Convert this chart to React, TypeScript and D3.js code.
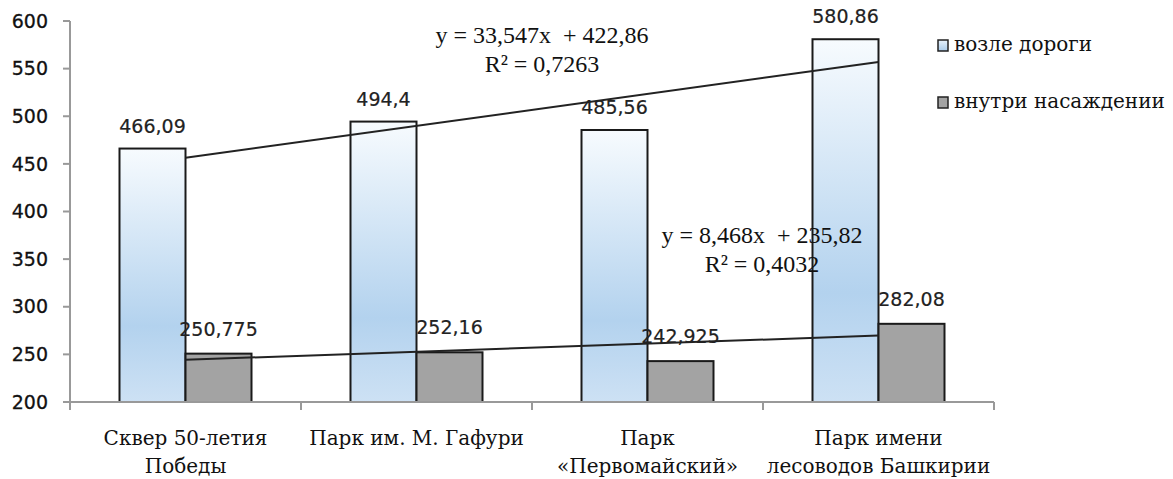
import React from "react";
import * as d3 from "d3";

const categories: string[][] = [
  ["Сквер 50-летия", "Победы"],
  ["Парк им. М. Гафури"],
  ["Парк", "«Первомайский»"],
  ["Парк имени", "лесоводов Башкирии"],
];
const seriesNames = ["возле дороги", "внутри насаждении"];
const roadValues = [466.09, 494.4, 485.56, 580.86];
const innerValues = [250.775, 252.16, 242.925, 282.08];
const roadLabels = ["466,09", "494,4", "485,56", "580,86"];
const innerLabels = ["250,775", "252,16", "242,925", "282,08"];
const yTicks = [200, 250, 300, 350, 400, 450, 500, 550, 600];
const trendRoad = { slope: 33.547, intercept: 422.86, eq: "y = 33,547x  + 422,86", r2: "R² = 0,7263" };
const trendInner = { slope: 8.468, intercept: 235.82, eq: "y = 8,468x  + 235,82", r2: "R² = 0,4032" };

export default function App() {
  const W = 1173, H = 479;
  const left = 70, right = 994, top = 21, bottom = 402;
  const x0 = d3.scaleBand<number>().domain(d3.range(categories.length)).range([left, right]).paddingInner(0).paddingOuter(0);
  const y = d3.scaleLinear().domain([200, 600]).range([bottom, top]);
  const bw = x0.bandwidth();
  const barW = bw / (2 + 1.5);
  const gap = (bw - 2 * barW) / 2;
  const roadX = (i: number) => (x0(i) as number) + gap;
  const innerX = (i: number) => (x0(i) as number) + gap + barW;
  const center = (i: number) => (x0(i) as number) + bw / 2;
  const trendX = (k: number) => center(k - 1);

  const tickFont = "'DejaVu Sans', Verdana, sans-serif";
  const serif = "'DejaVu Serif', serif";
  const eqFont = "'Liberation Serif', 'Times New Roman', serif";

  const line = (t: typeof trendRoad) => {
    const pts: [number, number][] = [1, 4].map((k) => [trendX(k), y(t.slope * k + t.intercept)]);
    return d3.line()(pts) as string;
  };

  return (
    <svg width={W} height={H} style={{ position: "absolute", left: 0, top: 0, background: "#fff" }}>
      <defs>
        <linearGradient id="blueGrad" x1="0" y1="0" x2="0" y2="1">
          <stop offset="0" stopColor="#f7fbfe" />
          <stop offset="0.7" stopColor="#b3d2ee" />
          <stop offset="1" stopColor="#cde1f4" />
        </linearGradient>
        <linearGradient id="blueGradLeg" x1="0" y1="0" x2="0" y2="1">
          <stop offset="0" stopColor="#e8f2fb" />
          <stop offset="1" stopColor="#a9cbea" />
        </linearGradient>
      </defs>

      {/* y axis */}
      <line x1={left} x2={left} y1={top} y2={bottom} stroke="#999" strokeWidth={2} />
      {yTicks.map((t) => (
        <g key={t}>
          <line x1={left - 7} x2={left} y1={y(t)} y2={y(t)} stroke="#999" strokeWidth={2} />
          <text x={48} y={y(t)} dy="0.35em" textAnchor="end" fontFamily={tickFont} fontSize={19} fill="#111" stroke="#111" strokeWidth={0.3}>
            {t}
          </text>
        </g>
      ))}

      {/* bars */}
      {roadValues.map((v, i) => (
        <rect key={"r" + i} x={roadX(i)} y={y(v)} width={barW} height={bottom - y(v)} fill="url(#blueGrad)" stroke="#1a1a1a" strokeWidth={2} />
      ))}
      {innerValues.map((v, i) => (
        <rect key={"n" + i} x={innerX(i)} y={y(v)} width={barW} height={bottom - y(v)} fill="#a3a3a3" stroke="#1a1a1a" strokeWidth={2} />
      ))}

      {/* x axis */}
      <line x1={left} x2={right} y1={bottom} y2={bottom} stroke="#999" strokeWidth={2} />
      {d3.range(categories.length + 1).map((i) => {
        const xx = left + i * bw;
        return <line key={"xt" + i} x1={xx} x2={xx} y1={bottom} y2={bottom + 8} stroke="#999" strokeWidth={2} />;
      })}

      {/* trendlines */}
      <path d={line(trendRoad)} stroke="#222" strokeWidth={2} fill="none" />
      <path d={line(trendInner)} stroke="#222" strokeWidth={2} fill="none" />

      {/* value labels */}
      {roadValues.map((v, i) => (
        <text key={"rl" + i} x={roadX(i) + barW / 2} y={y(v) - 16} textAnchor="middle" fontFamily={tickFont} fontSize={19} fill="#222" stroke="#222" strokeWidth={0.2}>
          {roadLabels[i]}
        </text>
      ))}
      {innerValues.map((v, i) => (
        <text key={"nl" + i} x={innerX(i) + barW / 2} y={y(v) - 18} textAnchor="middle" fontFamily={tickFont} fontSize={19} fill="#222" stroke="#222" strokeWidth={0.2}>
          {innerLabels[i]}
        </text>
      ))}

      {/* category labels */}
      {categories.map((lines, i) => (
        <text key={"c" + i} textAnchor="middle" fontFamily={serif} fontSize={20} fill="#111">
          {lines.map((l, j) => (
            <tspan key={j} x={center(i)} y={445 + j * 28}>
              {l}
            </tspan>
          ))}
        </text>
      ))}

      {/* equations */}
      <text textAnchor="middle" fontFamily={eqFont} fontSize={24} fill="#111">
        <tspan x={542} y={43} style={{ whiteSpace: "pre" }}>{trendRoad.eq}</tspan>
        <tspan x={542} y={72}>{trendRoad.r2}</tspan>
      </text>
      <text textAnchor="middle" fontFamily={eqFont} fontSize={24} fill="#111">
        <tspan x={762} y={243} style={{ whiteSpace: "pre" }}>{trendInner.eq}</tspan>
        <tspan x={762} y={272}>{trendInner.r2}</tspan>
      </text>

      {/* legend */}
      {seriesNames.map((n, i) => (
        <g key={"lg" + i} transform={`translate(938, ${40 + i * 57})`}>
          <rect x={0} y={0} width={10} height={11} fill={i === 0 ? "url(#blueGradLeg)" : "#a3a3a3"} stroke="#222" strokeWidth={1.5} />
          <text x={16} y={11} fontFamily={serif} fontSize={20} fill="#111">
            {n}
          </text>
        </g>
      ))}
    </svg>
  );
}
